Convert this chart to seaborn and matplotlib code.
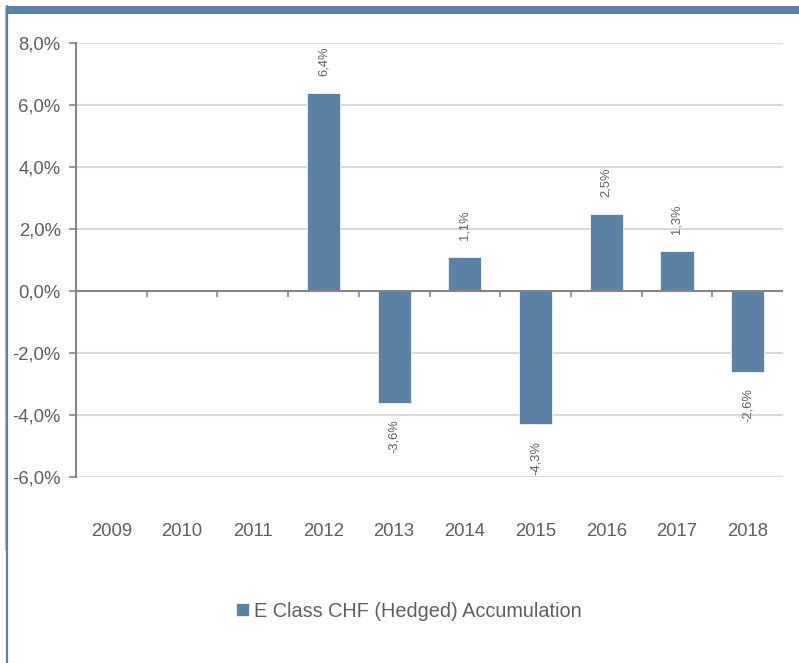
import matplotlib
matplotlib.use("Agg")
import matplotlib.pyplot as plt
import matplotlib.ticker as mticker
from matplotlib.patches import Rectangle
from matplotlib.lines import Line2D
import numpy as np
import pandas as pd
import seaborn as sns

# data (% returns per calendar year)
years = ["2009", "2010", "2011", "2012", "2013", "2014", "2015", "2016", "2017", "2018"]
returns = [np.nan, np.nan, np.nan, 6.4, -3.6, 1.1, -4.3, 2.5, 1.3, -2.6]
series_name = "E Class CHF (Hedged) Accumulation"
y_ticks = [-6, -4, -2, 0, 2, 4, 6, 8]

BAR = "#5B81A5"
TEXT = "#5F5F5F"
AXIS = "#868686"
GRID = "#D9D9D9"

sns.set_theme(style="white")
plt.rcParams["font.family"] = ["Liberation Sans", "DejaVu Sans"]

df = pd.DataFrame({"Year": years, "Return": returns})

fig = plt.figure(figsize=(7.99, 6.63), dpi=100)
ax = fig.add_axes([0.0951, 0.2805, 0.8849, 0.6546])

sns.barplot(data=df, x="Year", y="Return", ax=ax, color=BAR, width=0.47,
            saturation=1, label=series_name, edgecolor="white", linewidth=0.5)

ax.set_xlim(-0.5, 9.5)
ax.set_ylim(-6, 8)
ax.set_yticks(y_ticks)
ax.yaxis.set_major_formatter(
    mticker.FuncFormatter(lambda v, _: f"{v:.1f}%".replace(".", ",")))
ax.grid(axis="y", color=GRID, linewidth=1.5)
ax.set_axisbelow(True)

for side in ["top", "right", "bottom"]:
    ax.spines[side].set_visible(False)
ax.spines["left"].set_color(AXIS)
ax.spines["left"].set_linewidth(1.5)

ax.tick_params(axis="y", which="both", left=True, length=5, width=1.2,
               color=AXIS, labelsize=13.3, labelcolor=TEXT, pad=6)
ax.tick_params(axis="x", bottom=False, labelsize=13.3, labelcolor=TEXT, pad=27)
ax.set_xlabel("")
ax.set_ylabel("")

# zero line with small ticks between categories
ax.axhline(0, color=AXIS, linewidth=1.5, zorder=3)
ax.vlines(np.arange(len(years) - 1) + 0.5, 0, -0.19, color=AXIS,
          linewidth=1.2, zorder=3)

# value labels
for i, v in enumerate(returns):
    if np.isnan(v):
        continue
    txt = f"{v:.1f}%".replace(".", ",")
    off = 12 if v > 0 else -12
    ax.annotate(txt, (i, v), xytext=(0, off), textcoords="offset points",
                rotation=90, ha="center", va="bottom" if v > 0 else "top",
                fontsize=9.3, color=TEXT)

# legend at the bottom
leg = ax.legend(loc="center", bbox_to_anchor=(0.512, 0.078),
                bbox_transform=fig.transFigure, frameon=False, fontsize=14.3,
                handlelength=0.65, handleheight=0.65, handletextpad=0.25)
for t in leg.get_texts():
    t.set_color(TEXT)

# frame decoration: top bar and left lines
fig.add_artist(Rectangle((5 / 799, 1 - 14 / 663), 1, 8 / 663,
                         transform=fig.transFigure, color=BAR, lw=0))
fig.add_artist(Line2D([5 / 799, 5 / 799], [1 - 550 / 663, 1 - 6 / 663],
                      transform=fig.transFigure, color="#C8C8C8", linewidth=1.0))
fig.add_artist(Line2D([6.5 / 799, 6.5 / 799], [0, 1 - 6 / 663],
                      transform=fig.transFigure, color=BAR, linewidth=1.6))

fig.savefig("out.png", dpi=100)
